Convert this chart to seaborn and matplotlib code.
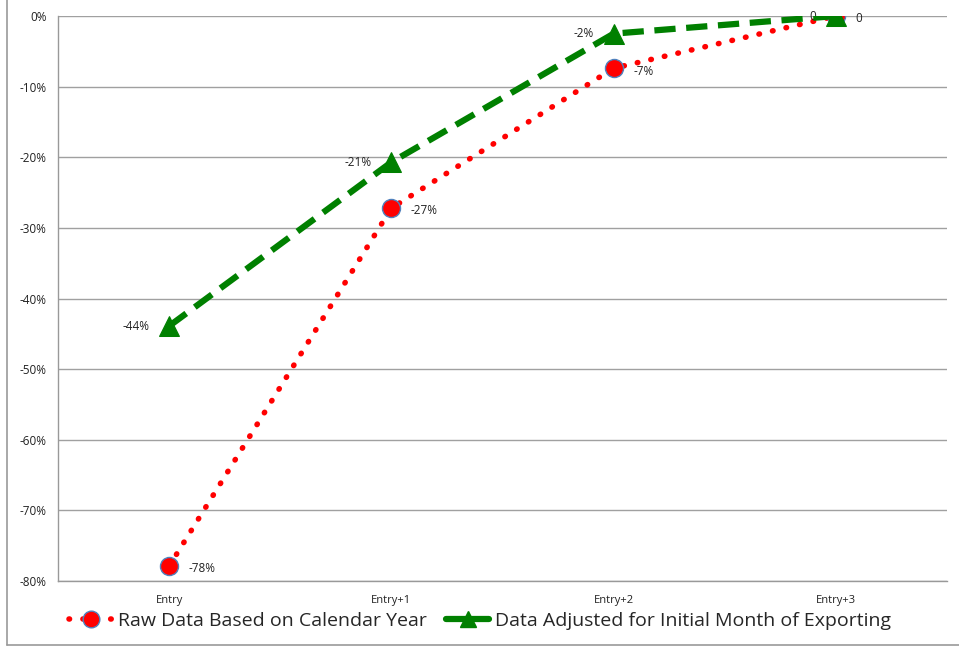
import matplotlib
matplotlib.use("Agg")
import matplotlib.pyplot as plt
import seaborn as sns
import pandas as pd
from matplotlib.lines import Line2D
from matplotlib.ticker import FuncFormatter, MultipleLocator

categories = ["Entry", "Entry+1", "Entry+2", "Entry+3"]
raw_values = [-0.779, -0.272, -0.074, 0.0]
adjusted_values = [-0.439, -0.207, -0.025, 0.0]
raw_labels = ["-78%", "-27%", "-7%", "0"]
adjusted_labels = ["-44%", "-21%", "-2%", "0"]
raw_name = "Raw Data Based on Calendar Year"
adjusted_name = "Data Adjusted for Initial Month of Exporting"

sns.set_style("white")
plt.rcParams["font.family"] = ["Open Sans", "DejaVu Sans"]

fig = plt.figure(figsize=(9.59, 6.51), dpi=100)
ax = fig.add_axes([58 / 959, 1 - 581 / 651, (947 - 58) / 959, (581 - 16) / 651])

xpos = list(range(len(categories)))
df_raw = pd.DataFrame({"x": xpos, "y": raw_values})
df_adj = pd.DataFrame({"x": xpos, "y": adjusted_values})

dot_style = (0, (0.1, 2.4))
dash_style = (0, (3.4, 1.7))

sns.lineplot(data=df_raw, x="x", y="y", ax=ax, color="#ff0000", linestyle=dot_style,
             linewidth=4, dash_capstyle="round", marker="o", markersize=13,
             markerfacecolor="#ff0000", markeredgecolor="#4f81bd", markeredgewidth=1.0,
             zorder=3)
sns.lineplot(data=df_adj, x="x", y="y", ax=ax, color="#008000", linestyle=dash_style,
             linewidth=4.5, marker="^", markersize=14,
             markerfacecolor="#008000", markeredgecolor="#008000", zorder=4)

for x, v, t in zip(xpos, raw_values, raw_labels):
    ax.annotate(t, (x, v), xytext=(14, -2), textcoords="offset points",
                ha="left", va="center", fontsize=8.5, color="#222222")
for x, v, t in zip(xpos, adjusted_values, adjusted_labels):
    ax.annotate(t, (x, v), xytext=(-14, 0), textcoords="offset points",
                ha="right", va="center", fontsize=8.5, color="#222222")

ax.set_xlim(-0.5, 3.5)
ax.set_ylim(-0.8, 0.0)
ax.yaxis.set_major_locator(MultipleLocator(0.1))
ax.yaxis.set_major_formatter(FuncFormatter(lambda v, p: f"{round(v * 100):d}%"))
ax.set_xticks(xpos)
ax.set_xticklabels(categories)
ax.set_xticks([-0.5, 0.5, 1.5, 2.5, 3.5], minor=True)
ax.tick_params(axis="x", which="major", length=0, pad=10, labelsize=8, labelcolor="#222222")
ax.tick_params(axis="x", which="minor", length=5, width=1, color="#888888", direction="out")
ax.tick_params(axis="y", which="major", length=4, width=1, color="#888888", direction="out",
               labelsize=8.5, labelcolor="#222222", pad=4)
ax.set_xlabel("")
ax.set_ylabel("")

ax.grid(axis="y", color="#a0a0a0", linewidth=1)
ax.set_axisbelow(True)
for s in ["top", "right"]:
    ax.spines[s].set_visible(False)
for s in ["left", "bottom"]:
    ax.spines[s].set_color("#999999")
    ax.spines[s].set_linewidth(1)

handles = [
    Line2D([0], [0], color="#ff0000", linestyle=dot_style, linewidth=4,
           dash_capstyle="round", marker="o", markersize=12,
           markerfacecolor="#ff0000", markeredgecolor="#4f81bd"),
    Line2D([0], [0], color="#008000", linestyle="-", linewidth=4.5, marker="^",
           markersize=12, markerfacecolor="#008000", markeredgecolor="#008000"),
]
fig.legend(handles, [raw_name, adjusted_name], loc="center", bbox_to_anchor=(480 / 959, 1 - 621 / 651),
           ncol=2, frameon=False, fontsize=14, handlelength=2.2, columnspacing=1.0,
           handletextpad=0.3)

# outer chart frame
fig.add_artist(Line2D([7 / 959, 7 / 959], [1 - 645 / 651, 1.0], color="#999999", linewidth=1.2,
                      transform=fig.transFigure))
fig.add_artist(Line2D([7 / 959, 1.0], [1 - 645 / 651, 1 - 645 / 651], color="#999999",
                      linewidth=1.2, transform=fig.transFigure))

fig.savefig("out.png", dpi=100)
